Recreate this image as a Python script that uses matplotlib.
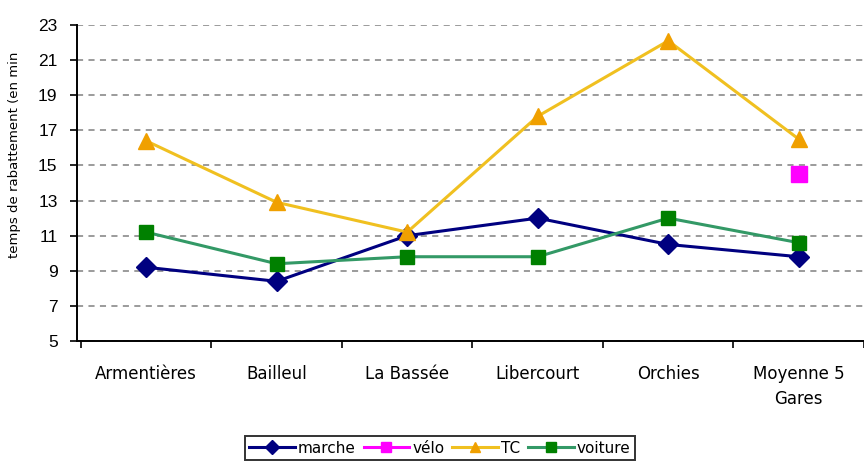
import numpy as np
import matplotlib.pyplot as plt

# temps de rabattement par gare et par mode
gares = ["Armentières", "Bailleul", "La Bassée", "Libercourt", "Orchies", "Moyenne 5\nGares"]
marche = [9.2, 8.4, 11.0, 12.0, 10.5, 9.8]
velo = [np.nan, np.nan, np.nan, np.nan, np.nan, 14.5]
tc = [16.4, 12.9, 11.2, 17.8, 22.1, 16.5]
voiture = [11.2, 9.4, 9.8, 9.8, 12.0, 10.6]
yticks = [5, 7, 9, 11, 13, 15, 17, 19, 21, 23]

fig = plt.figure(figsize=(8.64, 4.68), dpi=100)
ax = fig.add_axes([77 / 864, 1 - 341 / 468, 787 / 864, 316 / 468])
x = np.arange(len(gares))

ax.plot(x, marche, color="#000080", lw=2.2, marker="D", ms=10, mfc="#000080", mec="#000080", label="marche", zorder=4)
ax.plot(x, velo, color="#FF00FF", lw=2.2, marker="s", ms=11, mfc="#FF00FF", mec="#FF00FF", label="vélo", zorder=4)
ax.plot(x, tc, color="#F0C020", lw=2.2, marker="^", ms=11, mfc="#F0A000", mec="#F0A000", label="TC", zorder=4)
ax.plot(x, voiture, color="#339966", lw=2.2, marker="s", ms=9.5, mfc="#008000", mec="#008000", label="voiture", zorder=4)

ax.set_ylim(5, 23)
ax.set_yticks(yticks)
ax.set_yticklabels([str(v) for v in yticks], family="Liberation Sans", fontsize=12.5)
ax.set_xlim(-0.53, 5.457)
ax.set_xticks(x)
ax.set_xticklabels(gares, fontsize=12, linespacing=1.55)
ax.set_xticks(np.arange(-0.5, 6, 1), minor=True)
ax.tick_params(axis="x", which="major", length=0, pad=17)
ax.tick_params(axis="x", which="minor", length=5, width=1.2, direction="out")
ax.tick_params(axis="y", length=5, width=1.2, direction="out", pad=9)
ax.yaxis.grid(True, ls=(0, (4, 3.5)), color="#808080", lw=1.1)
ax.set_axisbelow(True)
for s in ["top", "right"]:
    ax.spines[s].set_visible(False)
for s in ["left", "bottom"]:
    ax.spines[s].set_linewidth(1.4)
ax.set_ylabel("temps de rabattement (en min", fontsize=9.5)
ax.yaxis.set_label_coords(-0.071, 0.59)

leg = fig.legend(loc="lower center", bbox_to_anchor=(0.509, 0.0), ncol=4, fontsize=11,
                 frameon=True, fancybox=False, edgecolor="black", handlelength=3.0,
                 handletextpad=0.2, columnspacing=0.5, borderpad=0.3, markerscale=0.7)
leg.get_frame().set_linewidth(1.4)

fig.savefig("out.png", dpi=100)
